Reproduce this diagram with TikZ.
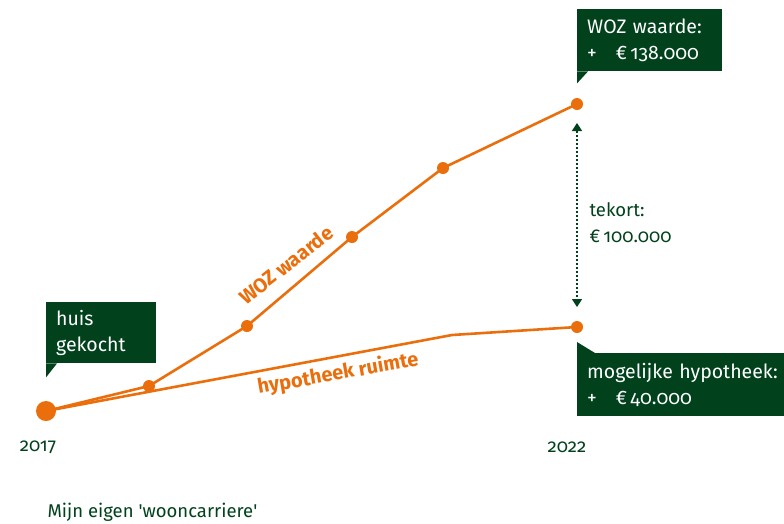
\documentclass[tikz,border=0pt]{standalone}
\usepackage{fontspec}
\setmainfont{Fira Sans}[Numbers=OldStyle]
\usetikzlibrary{arrows.meta,positioning}

\definecolor{oranje}{HTML}{EB6E0C}
\definecolor{donkergroen}{HTML}{01421D}

\tikzset{
  lijn/.style={oranje, line width=2.6pt, line join=round},
  punt/.style={circle, fill=oranje, inner sep=0pt, minimum size=12pt},
  kader/.style={fill=donkergroen, text=white, align=left, anchor=north west,
    inner xsep=10pt, inner ysep=0pt, font=\fontsize{19.5}{26}\selectfont},
  lijnlabel/.style={oranje, font=\bfseries\fontsize{20}{22}\selectfont},
  tekst/.style={donkergroen, font=\fontsize{18.5}{26}\selectfont}
}

\begin{document}
\begin{tikzpicture}[x=1pt, y=-1pt]
    \useasboundingbox (0,0) rectangle (784,523);
    \clip (0,0) rectangle (784,523);

    % Points of both lines
    \node[punt, minimum size=20pt] (start) at (46,411) {};
    \node[punt] (w1) at (149,386) {};
    \node[punt] (w2) at (247,326) {};
    \node[punt] (w3) at (352,237) {};
    \node[punt] (w4) at (443,168) {};
    \node[punt] (w5) at (577,104) {};
    \coordinate (h1) at (452,335);
    \node[punt] (h2) at (577,327) {};

    % WOZ waarde and hypotheek ruimte
    \draw[lijn] (start.center) -- (w1.center) -- (w2.center) -- (w3.center) -- (w4.center) -- (w5.center);
    \draw[lijn] (start.center) -- (h1) -- (h2.center);
    \node[lijnlabel, rotate=38] (wozlabel) at (286,265) {WOZ waarde};
    \node[lijnlabel, rotate=10] (hyplabel) at (338,374) {hypotheek ruimte};

    % Gap between both values
    \coordinate (tekortboven) at (577,123);
    \coordinate (tekortonder) at (577,307);
    \draw[donkergroen, line width=1.6pt, dash pattern=on 2.2pt off 1.8pt,
      {Triangle[width=10pt,length=8pt]}-{Triangle[width=10pt,length=8pt]}] (tekortboven) -- (tekortonder);
    \node[tekst, anchor=west, align=left] (tekort) at (586,223) {tekort:\\€\,100.000};

    % Text boxes
    \node[kader, minimum width=145pt, minimum height=62pt, text width=125pt] (wozkader) at (577,9)
      {WOZ waarde:\\+\hspace{19pt}€\,138.000};
    \fill[donkergroen] (wozkader.south west) -- ++(0,12) -- ++(11,-12) -- cycle;

    \node[kader, minimum width=110pt, minimum height=61pt, text width=90pt] (huiskader) at (46,302)
      {huis\\gekocht};
    \fill[donkergroen] (huiskader.south west) -- ++(0,14) -- ++(11,-14) -- cycle;

    \node[kader, minimum width=230pt, minimum height=63pt, text width=210pt] (hypkader) at (577,353)
      {mogelijke hypotheek:\\+\hspace{19pt}€\,40.000};
    \fill[donkergroen] (hypkader.north west) -- ++(0,-11) -- ++(18,11) -- cycle;

    % Years and title
    \node[tekst] (jaar1) at (38,447) {2017};
    \node[tekst] (jaar2) at (567,447) {2022};
    \node[tekst, anchor=west] (titel) at (44,512) {Mijn eigen \textquotesingle wooncarriere\textquotesingle};
\end{tikzpicture}
\end{document}
